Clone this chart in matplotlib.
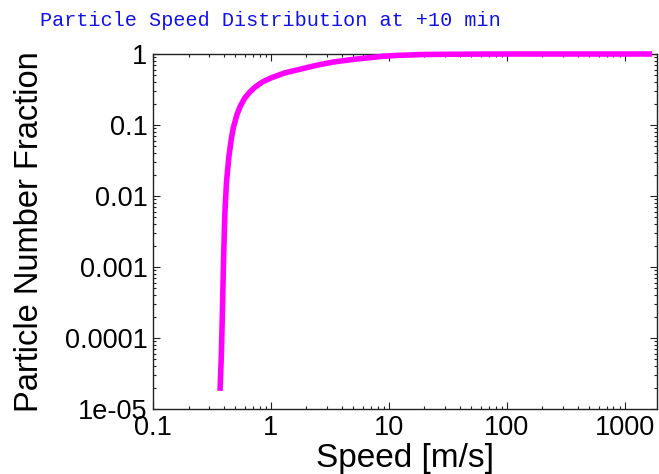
import matplotlib
matplotlib.use("Agg")
import matplotlib.pyplot as plt
from matplotlib.ticker import LogLocator, FixedLocator, FixedFormatter, NullFormatter

TITLE = "Particle Speed Distribution at +10 min"
X_LABEL = "Speed [m/s]"
Y_LABEL = "Particle Number Fraction"

# values (cumulative fraction vs speed)
speed = [0.37, 0.38, 0.388, 0.396, 0.407, 0.42, 0.44, 0.46, 0.48, 0.515, 0.55, 0.6,
         0.66, 0.73, 0.85, 1.0, 1.3, 1.76, 2.5, 3.35, 5.0, 6.5, 9.0, 11.7, 20, 50,
         100, 300, 1000, 1700]
fraction = [1.8e-5, 6e-5, 2.5e-4, 1.2e-3, 0.006, 0.016, 0.036, 0.062, 0.092, 0.14, 0.185, 0.24,
            0.29, 0.34, 0.405, 0.46, 0.54, 0.61, 0.7, 0.77, 0.84, 0.88, 0.93, 0.955, 0.985, 0.996,
            0.999, 1.0, 1.0, 1.0]

x_ticks = [0.1, 1, 10, 100, 1000]
x_tick_labels = ["0.1", "1", "10", "100", "1000"]
y_ticks = [1e-5, 1e-4, 1e-3, 1e-2, 1e-1, 1]
y_tick_labels = ["1e-05", "0.0001", "0.001", "0.01", "0.1", "1"]

W, H = 659, 474
fig = plt.figure(figsize=(W / 100, H / 100), dpi=100)
ax = fig.add_axes([153 / W, 1 - 409 / H, (657 - 153) / W, (409 - 54) / H])

ax.plot(speed, fraction, color="#ff00ff", lw=4.0, solid_capstyle="butt",
        solid_joinstyle="round", clip_on=False, zorder=5)

ax.set_xscale("log")
ax.set_yscale("log")
ax.set_xlim(0.1, 1870)
ax.set_ylim(1e-5, 1)

sans = "Liberation Sans"
ax.xaxis.set_major_locator(FixedLocator(x_ticks))
ax.xaxis.set_major_formatter(FixedFormatter(x_tick_labels))
ax.yaxis.set_major_locator(FixedLocator(y_ticks))
ax.yaxis.set_major_formatter(FixedFormatter(y_tick_labels))
ax.xaxis.set_minor_locator(LogLocator(base=10, subs=range(2, 10), numticks=20))
ax.yaxis.set_minor_locator(LogLocator(base=10, subs=range(2, 10), numticks=20))
ax.xaxis.set_minor_formatter(NullFormatter())
ax.yaxis.set_minor_formatter(NullFormatter())

ax.tick_params(which="both", direction="in", top=True, right=True, width=0.8, color="#222222")
ax.tick_params(which="major", length=5, labelsize=19.5, pad=4)
ax.tick_params(which="minor", length=2.5)
for lab in ax.get_xticklabels() + ax.get_yticklabels():
    lab.set_fontfamily(sans)

for sp in ax.spines.values():
    sp.set_linewidth(1.0)
    sp.set_color("#222222")

ax.set_xlabel(X_LABEL, fontsize=24, fontfamily=sans, labelpad=2)
ax.set_ylabel(Y_LABEL, fontsize=23.5, fontfamily=sans, labelpad=14)

fig.text(40 / W, 1 - 21 / H, TITLE, fontsize=14.5, fontfamily="Liberation Mono",
         color="#1010ee", ha="left", va="center")

fig.savefig("out.png", dpi=100)
